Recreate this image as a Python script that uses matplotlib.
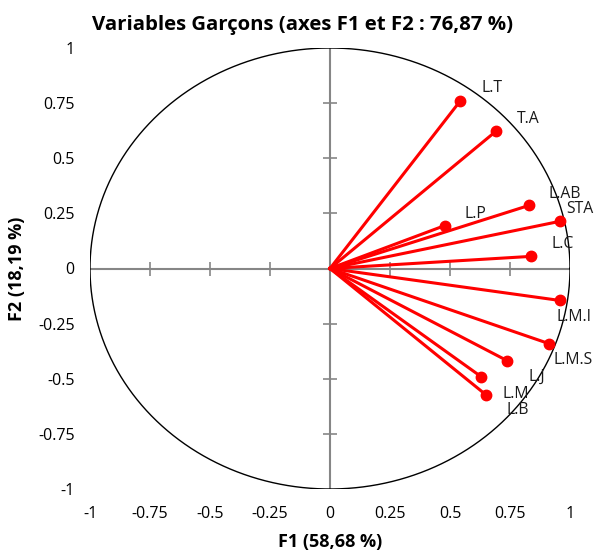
import numpy as np
import matplotlib
matplotlib.use("Agg")
from matplotlib import pyplot as plt

# correlations of the variables with F1 / F2
names = ["L.T", "T.A", "L.AB", "STA", "L.P", "L.C", "L.M.I", "L.M.S", "L.J", "L.M", "L.B"]
f1 = [0.542, 0.692, 0.829, 0.958, 0.479, 0.838, 0.958, 0.913, 0.738, 0.629, 0.650]
f2 = [0.759, 0.623, 0.286, 0.214, 0.195, 0.055, -0.145, -0.341, -0.418, -0.490, -0.573]
ticks = [-1, -0.75, -0.5, -0.25, 0, 0.25, 0.5, 0.75, 1]
tick_labels = ["-1", "-0.75", "-0.5", "-0.25", "0", "0.25", "0.5", "0.75", "1"]

# label offsets in pixels (dx, dy up)
offsets = {"L.T": (21, 13), "T.A": (21, 12), "L.AB": (20, 11), "STA": (6, 12),
           "L.P": (20, 12), "L.C": (20, 12), "L.M.I": (-3, -17), "L.M.S": (4, -16),
           "L.J": (21, -16), "L.M": (22, -17), "L.B": (21, -15)}

plt.rcParams["font.family"] = ["Open Sans", "DejaVu Sans"]

fig = plt.figure(figsize=(5.94, 5.54), dpi=100)
ax = fig.add_axes([90/594, 65/554, 480/594, 441/554])
ax.set_xlim(-1, 1)
ax.set_ylim(-1, 1)
for s in ax.spines.values():
	s.set_visible(False)

grey = "#868686"
ax.plot([-1, 1], [0, 0], color=grey, lw=1.5, zorder=1)
ax.plot([0, 0], [-1, 1], color=grey, lw=1.5, zorder=1)
minor = [t for t in ticks if t not in (-1, 0, 1)]
ax.plot(minor, [0]*len(minor), ls="none", marker="|", ms=10, mew=1.2, color=grey, zorder=1)
ax.plot([0]*len(minor), minor, ls="none", marker="_", ms=10, mew=1.2, color=grey, zorder=1)

th = np.linspace(0, 2*np.pi, 400)
ax.plot(np.cos(th), np.sin(th), color="black", lw=1, zorder=2)

for n, x, y in zip(names, f1, f2):
	ax.plot([0, x], [0, y], color="#ff0000", lw=2.2, zorder=3)
	ax.plot(x, y, "o", color="#ff0000", ms=7.5, zorder=4)
	dx, dy = offsets[n]
	ax.annotate(n, (x, y), xytext=(dx*0.72, dy*0.72), textcoords="offset points",
		ha="left", va="center", fontsize=11.3, color="#1a1a1a")

ax.set_xticks(ticks)
ax.set_xticklabels(tick_labels)
ax.set_yticks(ticks)
ax.set_yticklabels(tick_labels)
ax.tick_params(axis="both", length=0, labelsize=11.5, colors="black")
ax.tick_params(axis="x", pad=12)
ax.tick_params(axis="y", pad=11)

ax.set_xlabel("F1 (58,68 %)", fontsize=13, fontweight="bold", labelpad=8)
ax.set_ylabel("F2 (18,19 %)", fontsize=13, fontweight="bold", labelpad=9)
fig.text(303/594, 1 - 25/554, "Variables Garçons (axes F1 et F2 : 76,87 %)",
	ha="center", va="center", fontsize=14.7, fontweight="bold")

fig.savefig("out.png", dpi=100)
